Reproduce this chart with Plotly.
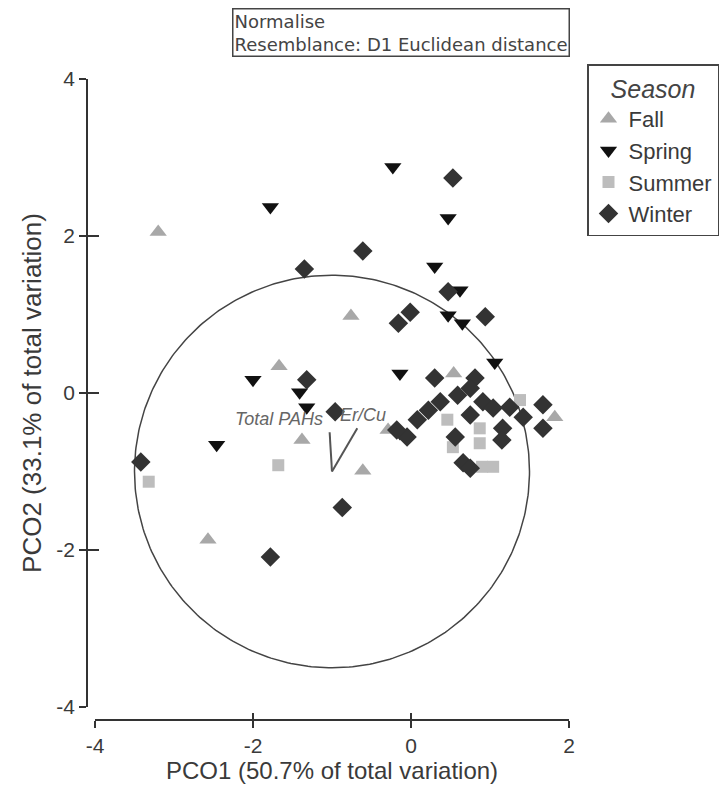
import numpy as np
import plotly.graph_objects as go

# PCO scores per season
fall_x = [-3.20, -0.76, -1.67, -1.38, -0.61, -2.57, -0.29, 0.54, 1.82]
fall_y = [2.05, 0.98, 0.34, -0.60, -0.99, -1.87, -0.47, 0.25, -0.31]

spring_x = [-1.78, -0.23, 0.47, 0.30, 0.62, 0.47, 0.65, 1.06, -0.14, -2.00, -2.46, -1.41, -1.32, -0.14]
spring_y = [2.37, 2.88, 2.23, 1.61, 1.31, 0.99, 0.89, 0.39, 0.25, 0.17, -0.66, 0.01, -0.18, -0.51]

summer_x = [-3.32, -1.68, 0.46, 0.87, 0.87, 0.53, 1.04, 0.90, 1.38]
summer_y = [-1.13, -0.92, -0.34, -0.45, -0.64, -0.69, -0.94, -0.94, -0.09]

winter_x = [-3.42, -1.78, -0.87, -1.35, -0.61, -0.96, -1.32, 0.53, -0.16, -0.01, 0.47, 0.94,
            0.30, 0.81, 0.75, 0.59, 0.37, 0.22, 0.08, -0.05, 0.75, 0.91, 1.04, 0.56, 0.66,
            0.75, 1.16, 1.15, 1.25, 1.42, 1.67, 1.67, -0.18]
winter_y = [-0.88, -2.09, -1.46, 1.58, 1.81, -0.24, 0.17, 2.74, 0.89, 1.03, 1.29, 0.97,
            0.19, 0.19, 0.06, -0.03, -0.11, -0.22, -0.34, -0.56, -0.28, -0.11, -0.19, -0.56, -0.89,
            -0.96, -0.45, -0.60, -0.18, -0.31, -0.15, -0.45, -0.47]

# Vector overlay (correlation circle)
circle_center = (-1.0, -1.0)
circle_radius = 2.5
vector_names = ["Total PAHs", "Er/Cu"]
vector_dx = [-0.03, 0.32]
vector_dy = [0.50, 0.55]

x_ticks = [-4, -2, 0, 2]
x_ticktext = ["-4", "-2", "0", "2"]
y_ticks = [-4, -2, 0, 2, 4]
y_ticktext = ["-4", "-2", "0", "2", "4"]

FONT = "Arial, Liberation Sans, sans-serif"
AXIS_COLOR = "#333333"
TEXT_COLOR = "#3a3a3a"

fig = go.Figure()

theta = np.linspace(0, 2 * np.pi, 361)
fig.add_trace(go.Scatter(
    x=circle_center[0] + circle_radius * np.cos(theta),
    y=circle_center[1] + circle_radius * np.sin(theta),
    mode="lines", line=dict(color="#444444", width=1.5),
    hoverinfo="skip", showlegend=False))

for name, dx, dy in zip(vector_names, vector_dx, vector_dy):
    fig.add_trace(go.Scatter(
        x=[circle_center[0], circle_center[0] + dx],
        y=[circle_center[1], circle_center[1] + dy],
        mode="lines", line=dict(color="#555555", width=2),
        hoverinfo="skip", showlegend=False))
    fig.add_annotation(
        x=circle_center[0] + dx, y=circle_center[1] + dy,
        text=name, showarrow=False,
        xanchor="right" if dx <= 0 else "left", yanchor="bottom",
        xshift=-5 if dx <= 0 else -19, yshift=1,
        font=dict(family=FONT, size=18, color="#666666", style="italic"))

series = [
    ("Fall", fall_x, fall_y, "triangle-up", "#a8a8a8", 15),
    ("Spring", spring_x, spring_y, "triangle-down", "#111111", 15),
    ("Summer", summer_x, summer_y, "square", "#bdbdbd", 12),
    ("Winter", winter_x, winter_y, "diamond", "#333333", 15),
]
for name, xs, ys, sym, col, size in series:
    fig.add_trace(go.Scatter(
        x=xs, y=ys, mode="markers", name=name,
        marker=dict(symbol=sym, color=col, size=size, line=dict(width=0))))

# overlay axes give the crossing tick marks
fig.add_trace(go.Scatter(x=[None], y=[None], xaxis="x2", yaxis="y2",
                         showlegend=False, hoverinfo="skip"))

x_dom = [8 / 482, 1]
y_dom = [13 / 641, 1]

common = dict(showgrid=False, zeroline=False, showline=True, linecolor=AXIS_COLOR,
              linewidth=1.5, tickcolor=AXIS_COLOR, tickwidth=1.5,
              tickfont=dict(family=FONT, size=21, color=TEXT_COLOR))

fig.update_layout(
    width=719, height=793,
    margin=dict(l=87, r=150, t=79, b=73, autoexpand=False),
    paper_bgcolor="white", plot_bgcolor="white",
    font=dict(family=FONT, color=TEXT_COLOR),
    xaxis=dict(range=[-4, 2], domain=x_dom, anchor="free", position=0,
               tickvals=x_ticks, ticktext=x_ticktext, ticks="outside", ticklen=7,
               title=dict(text="PCO1 (50.7% of total variation)",
                          font=dict(family=FONT, size=24, color=TEXT_COLOR), standoff=2),
               **common),
    yaxis=dict(range=[-4, 4], domain=y_dom, anchor="free", position=0,
               tickvals=y_ticks, ticktext=y_ticktext, ticks="outside", ticklen=7,
               title=dict(text="PCO2 (33.1% of total variation)",
                          font=dict(family=FONT, size=26, color=TEXT_COLOR), standoff=6),
               **common),
    xaxis2=dict(range=[-4, 2], domain=x_dom, overlaying="x", anchor="free", position=0,
                tickvals=x_ticks, ticks="inside", ticklen=7, showticklabels=False,
                showgrid=False, zeroline=False, showline=False,
                tickcolor=AXIS_COLOR, tickwidth=1.5),
    yaxis2=dict(range=[-4, 4], domain=y_dom, overlaying="y", anchor="free", position=0,
                tickvals=y_ticks, ticks="inside", ticklen=11, showticklabels=False,
                showgrid=False, zeroline=False, showline=False,
                tickcolor=AXIS_COLOR, tickwidth=1.5),
    legend=dict(
        xref="container", yref="container",
        x=587 / 719, y=1 - 64 / 793, xanchor="left", yanchor="top",
        bordercolor="#444444", borderwidth=1.5, bgcolor="white",
        font=dict(family=FONT, size=22, color=TEXT_COLOR),
        title=dict(text="Season", side="top center",
                   font=dict(family=FONT, size=25, color="#444444", style="italic")),
        itemwidth=30, tracegroupgap=0),
    showlegend=True,
)

fig.add_annotation(
    xref="paper", yref="paper",
    x=(232 - 87) / 482, y=(793 - 73 - 8) / 641,
    xanchor="left", yanchor="top",
    text="Normalise<br>Resemblance: D1 Euclidean distance",
    showarrow=False, align="left",
    bordercolor="#444444", borderwidth=1.5, borderpad=1, bgcolor="white",
    font=dict(family="DejaVu Sans", size=18, color="#444444"))

fig.write_html("out.html")
